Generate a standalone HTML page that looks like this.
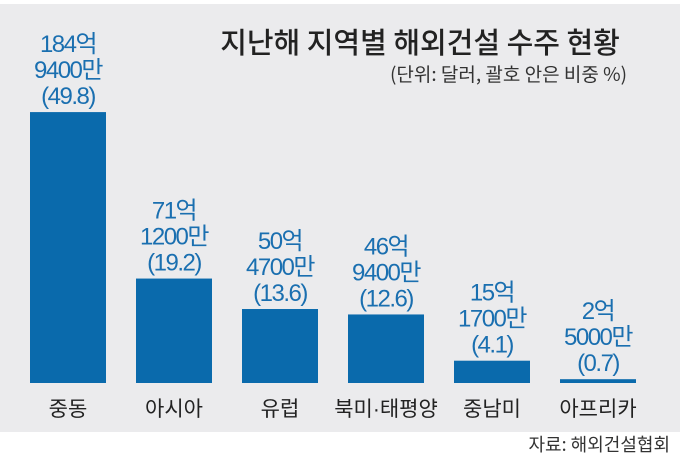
<!DOCTYPE html>
<html><head><meta charset="utf-8"><style>
body{margin:0;width:680px;height:460px;background:#fff;font-family:"Liberation Sans","Noto Sans CJK KR",sans-serif;overflow:hidden}
</style></head><body>
<svg width="680" height="460">
<rect x="0" y="4" width="680" height="428" fill="#ebebed"/>
<text x="420" y="53" text-anchor="middle" font-size="29" fill="#222" font-family="Noto Sans CJK KR, sans-serif" font-weight="500">지난해 지역별 해외건설 수주 현황</text>
<text x="627" y="81" text-anchor="end" font-size="19" fill="#333" font-family="Noto Sans CJK KR, sans-serif">(단위: 달러, 괄호 안은 비중 %)</text>
<g id="bars"></g>
<text x="670" y="451" text-anchor="end" font-size="18" fill="#333" font-family="Noto Sans CJK KR, sans-serif">자료: 해외건설협회</text>
</svg>
<script>
const categories=["중동","아시아","유럽","북미·태평양","중남미","아프리카"];
const amountLine1=["184억","71억","50억","46억","15억","2억"];
const amountLine2=["9400만","1200만","4700만","9400만","1700만","5000만"];
const shares=[49.8,19.2,13.6,12.6,4.1,0.7];
const ns="http://www.w3.org/2000/svg";
const g=document.getElementById("bars");
const baseY=383, pxPerUnit=5.44, x0=30, step=106, bw=76;
function xPos(i){return x0+i*step;}
function yPos(v){return baseY-v*pxPerUnit;}
function mk(t,a){const e=document.createElementNS(ns,t);for(const k in a)e.setAttribute(k,a[k]);return e;}
shares.forEach((v,i)=>{
  const x=xPos(i),y=yPos(v);
  const r=mk("rect",{x:x,y:y,width:bw,height:baseY-y,fill:"#0a6aac"});
  
  
  g.appendChild(r);
  const cx=x+bw/2;
  const lines=[amountLine1[i],amountLine2[i],"("+v.toFixed(1)+")"];
  lines.forEach((s,j)=>{
    const t=mk("text",{x:cx,y:y-8-(2-j)*26,"text-anchor":"middle","font-size":"24",fill:"#1a6fb0","letter-spacing":"-1.5"});
    t.textContent=s;
    
    
    g.appendChild(t);
  });
  const c=mk("text",{x:cx,y:416,"text-anchor":"middle","font-size":"21",fill:"#222"});
  c.textContent=categories[i];
  
  
  g.appendChild(c);
});
</script>
</body></html>
